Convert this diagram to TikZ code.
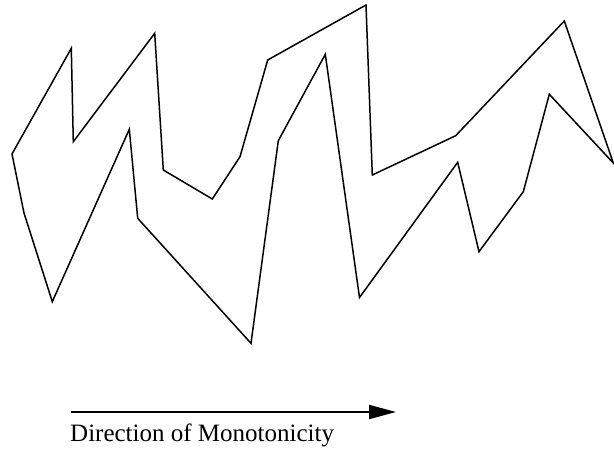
\documentclass[tikz,border=0pt]{standalone}
\usepackage{fontspec}
\setmainfont{Liberation Serif}
\usetikzlibrary{arrows.meta}
\begin{document}
\begin{tikzpicture}[x=1pt,y=-1pt,
  outline/.style={line width=1.5pt,line join=miter},
  dirarrow/.style={line width=2pt,-{Triangle[length=27pt,width=14pt]}},
  caption/.style={font=\fontsize{25}{28}\selectfont,anchor=base west,inner sep=0pt}]
\useasboundingbox (0,0) rectangle (614,458);
\draw[outline] (12,154) -- (71.3,48.3) -- (73.3,141.7) -- (154.7,33.3) -- (163.3,170)
  -- (212.3,199) -- (240,156.7) -- (267.7,60) -- (366,5) -- (372.3,175)
  -- (455.7,135.7) -- (564.3,21) -- (613.3,163)
  -- (549.3,94.3) -- (523.3,191.7) -- (479,251.7) -- (457.7,162.3) -- (359.5,297.5)
  -- (325.3,54.3) -- (278.3,140.7) -- (251,343.3) -- (137.7,218.3) -- (129.3,129.3)
  -- (52.3,301.7) -- (24,213) -- cycle;
\coordinate (a0) at (71,412);
\coordinate (a1) at (396,412);
\draw[dirarrow] (a0) -- (a1);
\node[caption] (lbl) at (70,441) {Direction of Monotonicity};
\end{tikzpicture}
\end{document}
